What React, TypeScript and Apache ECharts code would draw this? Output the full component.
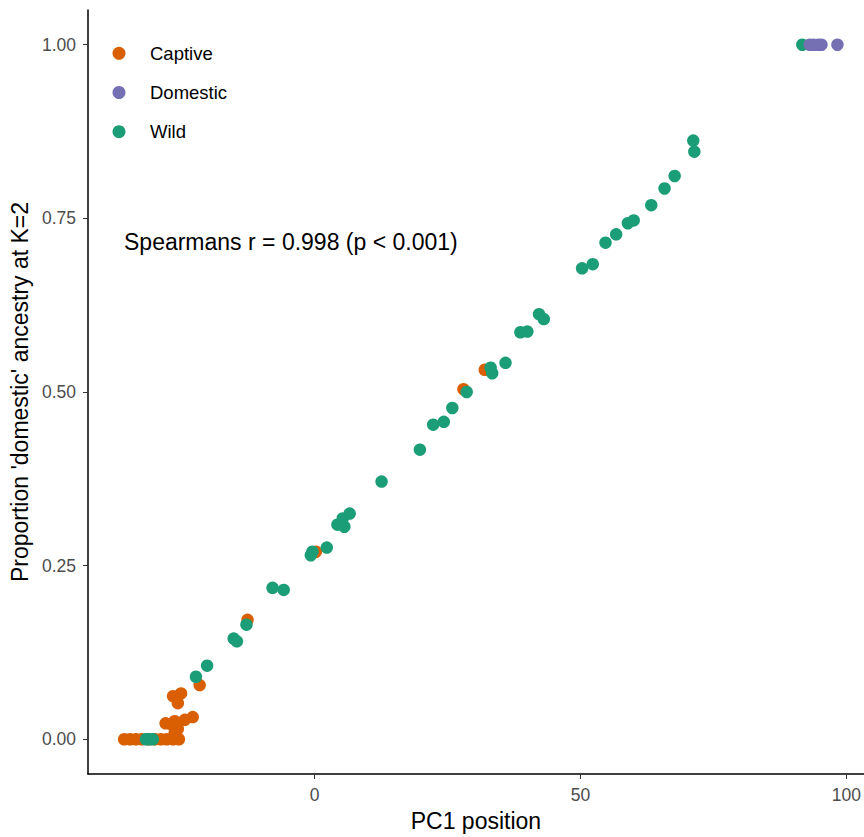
import React, { useEffect, useRef } from "react";
import * as echarts from "echarts";

const captive: [number, number][] = [
  [-35.8, 0], [-34.7, 0], [-33.6, 0], [-32.5, 0], [-31.3, 0], [-30.0, 0],
  [-28.9, 0], [-27.8, 0], [-26.6, 0], [-25.5, 0], [-26.3, 0.009],
  [-28.0, 0.023], [-27.0, 0.022], [-26.3, 0.026], [-24.4, 0.028], [-25.7, 0.015],
  [-22.9, 0.032], [-26.6, 0.062], [-25.1, 0.066], [-25.7, 0.052], [-21.6, 0.078],
  [-12.6, 0.172], [0.25, 0.27], [28.0, 0.504], [32.0, 0.532],
];

const wild: [number, number][] = [
  [-31.7, 0], [-30.4, 0], [-31.0, 0], [-22.3, 0.09], [-20.2, 0.106],
  [-15.2, 0.145], [-14.6, 0.141], [-12.8, 0.165], [-7.9, 0.218], [-5.8, 0.215],
  [-0.7, 0.265], [-0.4, 0.27], [2.3, 0.276], [4.3, 0.309], [5.3, 0.318],
  [5.6, 0.306], [6.6, 0.325], [12.6, 0.371], [19.8, 0.417], [22.3, 0.453],
  [24.3, 0.457], [25.9, 0.477], [28.6, 0.5], [33.1, 0.535], [33.4, 0.527],
  [35.9, 0.542], [38.7, 0.586], [40.0, 0.587], [42.2, 0.612], [43.1, 0.605],
  [50.3, 0.678], [52.3, 0.684], [54.7, 0.715], [56.7, 0.727], [58.9, 0.743],
  [60.0, 0.747], [63.3, 0.769], [65.8, 0.793], [67.7, 0.811], [71.2, 0.862],
  [71.4, 0.846], [91.7, 1.0],
];

const domestic: [number, number][] = [
  [93.1, 1.0], [93.8, 1.0], [94.7, 1.0], [95.3, 1.0], [98.3, 1.0],
];

const xTicks = [0, 50, 100];
const yTicks = [0, 0.25, 0.5, 0.75, 1.0];
const legendOrder = ["Captive", "Domestic", "Wild"];
const annotation = "Spearmans r = 0.998 (p < 0.001)";

const COLORS: Record<string, string> = {
  Captive: "#D95F02",
  Domestic: "#7570B3",
  Wild: "#1B9E77",
};

const FONT = "Liberation Sans, Arial, sans-serif";

export default function App() {
  const ref = useRef<HTMLDivElement>(null);

  useEffect(() => {
    document.body.style.margin = "0";
    if (!ref.current) return;
    const chart = echarts.init(ref.current, undefined, { renderer: "svg" });
    const mk = (name: string, data: [number, number][]) => ({
      name,
      type: "scatter",
      data,
      symbol: "circle",
      symbolSize: 12.5,
      itemStyle: { color: COLORS[name], opacity: 1 },
      emphasis: { disabled: true },
    });
    chart.setOption({
      animation: false,
      backgroundColor: "#ffffff",
      textStyle: { fontFamily: FONT },
      grid: { left: 85, top: 10, width: 779, height: 766, containLabel: false },
      legend: {
        data: legendOrder,
        orient: "vertical",
        left: 107.5,
        top: 37.3,
        icon: "circle",
        itemWidth: 13,
        itemHeight: 13,
        itemGap: 17.2,
        textStyle: { fontSize: 18.5, color: "#000", fontFamily: FONT, lineHeight: 22, padding: [0, 0, 0, 19.5] },
        selectedMode: false,
      },
      xAxis: {
        type: "value",
        min: -42.6,
        max: 103.28,
        name: "PC1 position",
        nameLocation: "middle",
        nameGap: 35,
        nameTextStyle: { fontSize: 23, color: "#000", fontFamily: FONT },
        axisLine: { show: true, onZero: false, lineStyle: { color: "#000", width: 1.5 } },
        axisTick: { show: true, length: 5, customValues: xTicks, lineStyle: { color: "#333", width: 1 } },
        axisLabel: { customValues: xTicks, fontSize: 17.5, color: "#4D4D4D", margin: 12, fontFamily: FONT },
        splitLine: { show: false },
      },
      yAxis: {
        type: "value",
        min: -0.05,
        max: 1.05,
        name: "Proportion 'domestic' ancestry at K=2",
        nameLocation: "middle",
        nameGap: 52.5,
        nameTextStyle: { fontSize: 23, color: "#000", fontFamily: FONT },
        axisLine: { show: true, onZero: false, lineStyle: { color: "#000", width: 1.5 } },
        axisTick: { show: true, length: 5, customValues: yTicks, lineStyle: { color: "#333", width: 1 } },
        axisLabel: {
          customValues: yTicks,
          fontSize: 17.5,
          color: "#4D4D4D",
          margin: 12,
          fontFamily: FONT,
          formatter: (v: number) => v.toFixed(2),
        },
        splitLine: { show: false },
      },
      graphic: [
        {
          type: "text",
          left: 124,
          top: 230.5,
          style: { text: annotation, fontSize: 23, fill: "#000", fontFamily: FONT },
        },
      ],
      series: [mk("Captive", captive), mk("Wild", wild), mk("Domestic", domestic)],
    });
    return () => chart.dispose();
  }, []);

  return <div ref={ref} style={{ width: 864, height: 837 }} />;
}
